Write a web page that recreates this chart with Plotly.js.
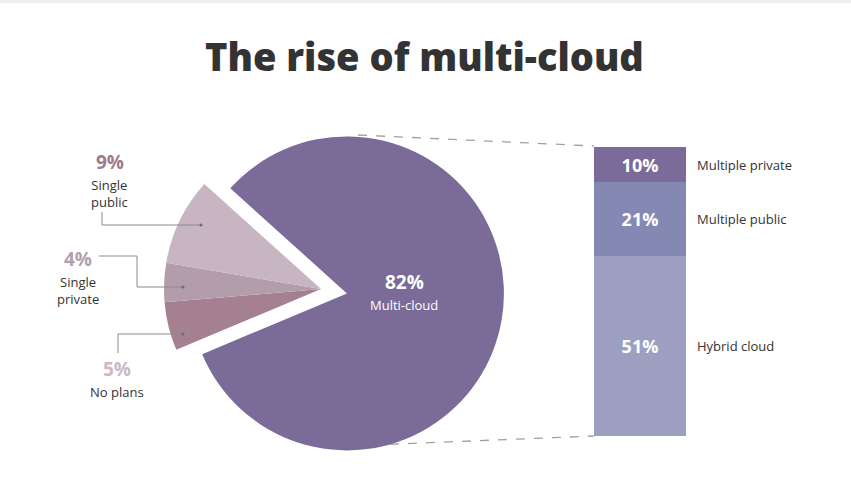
<!DOCTYPE html>
<html>
<head>
<meta charset="utf-8">
<script src="https://cdn.plot.ly/plotly-3.0.1.min.js"></script>
<style>html,body{margin:0;padding:0;background:#fff;}#chart{width:851px;height:491px;}</style>
</head>
<body>
<div id="chart"></div>
<script>
// ---- data ----
const pieLabels = ["No plans", "Single private", "Single public", "Multi-cloud"];
const pieValues = [5, 4, 9, 82];
const pieColors = ["#a48091", "#b39dab", "#c7b5c2", "#7a6b98"];
const pieLabelColors = ["#cbb8c6", "#b39fad", "#9c7b90"];

const barLabels = ["Hybrid cloud", "Multiple public", "Multiple private"];
const barValues = [51, 21, 10];
const barColors = ["#9d9fc0", "#8588b2", "#7b6b99"];

const W = 851, H = 491;
const px = x => x / W;
const py = y => 1 - y / H;

const traces = [];
traces.push({
  type: "pie",
  labels: pieLabels,
  values: pieValues,
  sort: false,
  direction: "clockwise",
  rotation: 247.2,
  pull: [0, 0, 0, 0.1675],
  marker: {colors: pieColors, line: {width: 0}},
  textinfo: "none",
  hoverinfo: "label+percent",
  domain: {x: [0.1618, 0.5926], y: [0.0381, 0.7847]},
  showlegend: false
});

barLabels.forEach((lab, i) => {
  traces.push({
    type: "bar",
    x: [0],
    y: [barValues[i]],
    name: lab,
    width: 1,
    marker: {color: barColors[i], line: {width: 0}},
    texttemplate: "%{y}%",
    textposition: "inside",
    insidetextanchor: "middle",
    constraintext: "none",
    textfont: {family: "Open Sans", size: 18, color: "#ffffff", weight: 700},
    hoverinfo: "name+y",
    showlegend: false
  });
});

const annotations = [];
function ann(o) {
  annotations.push(Object.assign({xref: "paper", yref: "paper", xanchor: "center", yanchor: "middle", showarrow: false, borderpad: 0}, o));
}
// bar side labels
let cum = 0;
barLabels.forEach((lab, i) => {
  const mid = cum + barValues[i] / 2;
  cum += barValues[i];
  ann({xref: "x", yref: "y", x: 0.5, y: mid, xanchor: "left", xshift: 10, text: lab,
    font: {family: "Open Sans", size: 13, color: "#333333"}});
});

// big slice label
ann({x: px(404), y: py(282), text: pieValues[3] + "%",
  font: {family: "Open Sans", size: 19, color: "#ffffff", weight: 700}});
ann({x: px(404), y: py(295), yanchor: "top", text: pieLabels[3],
  font: {family: "Open Sans", size: 13, color: "#ffffff"}});

// small slice labels (order: No plans, Single private, Single public)
const smallPos = [
  {x: 117, yv: 369, yl: 382},
  {x: 78, yv: 259, yl: 272},
  {x: 110, yv: 162, yl: 175}
];
const smallText = ["No plans", "Single<br>private", "Single<br>public"];
smallPos.forEach((p, i) => {
  ann({x: px(p.x), y: py(p.yv), text: pieValues[i] + "%",
    font: {family: "Open Sans", size: 19, color: pieLabelColors[i], weight: 700}});
  ann({x: px(p.x), y: py(p.yl), yanchor: "top", text: smallText[i], align: "center",
    font: {family: "Open Sans", size: 13, color: "#333333"}});
});

// title
ann({x: px(424), y: py(56), text: "The rise of multi-cloud",
  font: {family: "Open Sans", size: 38, color: "#333333", weight: 800}});

const leader = {color: "#8a8a8a", width: 1};
function pathPx(pts) {
  return "M" + pts.map(p => px(p[0]) + "," + py(p[1])).join(" L");
}
function dot(x, y) {
  return {type: "circle", xref: "paper", yref: "paper", x0: px(x - 1.5), x1: px(x + 1.5),
    y0: py(y + 1.5), y1: py(y - 1.5), fillcolor: "#6d6d6d", line: {width: 0}};
}
const shapes = [
  {type: "rect", xref: "paper", yref: "paper", x0: 0, x1: 1, y0: py(3), y1: 1,
   fillcolor: "#efefef", line: {width: 0}, layer: "below"},
  {type: "path", xref: "paper", yref: "paper", path: pathPx([[102, 212], [102, 225], [201, 225]]), line: leader},
  {type: "path", xref: "paper", yref: "paper", path: pathPx([[99, 256], [137, 256], [137, 287], [183, 287]]), line: leader},
  {type: "path", xref: "paper", yref: "paper", path: pathPx([[118, 353], [118, 334], [183, 334]]), line: leader},
  dot(201, 225), dot(183, 287), dot(183, 334),
  {type: "line", xref: "paper", yref: "paper", x0: px(358), y0: py(135), x1: px(594), y1: py(146),
   line: {color: "#a0a0a0", width: 1.3, dash: "dash"}, layer: "below"},
  {type: "line", xref: "paper", yref: "paper", x0: px(372), y0: py(445), x1: px(594), y1: py(436),
   line: {color: "#a0a0a0", width: 1.3, dash: "dash"}, layer: "below"}
];

const layout = {
  width: W, height: H,
  margin: {l: 0, r: 0, t: 0, b: 0},
  paper_bgcolor: "#ffffff",
  plot_bgcolor: "rgba(0,0,0,0)",
  barmode: "stack",
  bargap: 0,
  showlegend: false,
  xaxis: {domain: [px(594), px(686)], range: [-0.5, 0.5], visible: false, fixedrange: true},
  yaxis: {domain: [1 - 436 / H, 1 - 147 / H], range: [0, 82], visible: false, fixedrange: true},
  annotations: annotations,
  shapes: shapes
};

Plotly.newPlot("chart", traces, layout, {displayModeBar: false, staticPlot: true});
</script>
</body>
</html>
